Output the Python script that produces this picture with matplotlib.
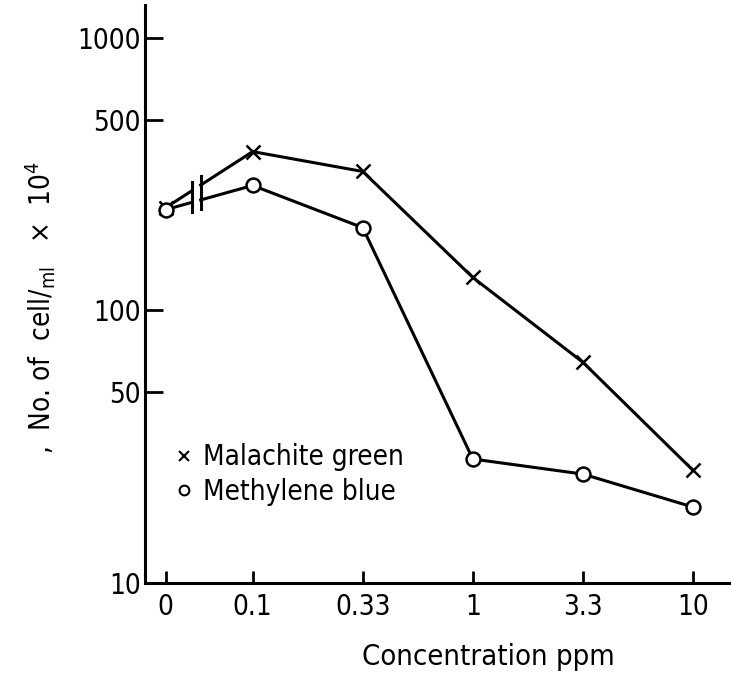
import math
import matplotlib
matplotlib.use('Agg')
import matplotlib.pyplot as plt
from matplotlib.lines import Line2D

plt.rcParams['font.family'] = ['DejaVu Sans']
plt.rcParams['font.stretch'] = 'condensed'
plt.rcParams['mathtext.default'] = 'regular'

# data
conc_labels = ['0', '0.1', '0.33', '1', '3.3', '10']
malachite = [238, 382, 323, 132, 64.5, 25.9]
methylene = [234, 287, 201, 28.5, 25.1, 19.0]

# x layout: 0 sits closer to 0.1, axis break in between
x_pos = [0.21, 1, 2, 3, 4, 5]
break_x = [0.446, 0.528]

fig = plt.figure(figsize=(7.31, 6.78), dpi=100)
ax = fig.add_axes([0.198, 0.140, 0.802, 0.853])
ax.set_yscale('log')


def at_break(ys, bx):
    # log-linear value of the first segment at a break position
    t = (bx - x_pos[0]) / (x_pos[1] - x_pos[0])
    return 10 ** (math.log10(ys[0]) + t * (math.log10(ys[1]) - math.log10(ys[0])))


for ys in (malachite, methylene):
    ax.plot([x_pos[0], break_x[0]], [ys[0], at_break(ys, break_x[0])],
            color='black', lw=2.2)
    ax.plot([break_x[1]] + x_pos[1:], [at_break(ys, break_x[1])] + ys[1:],
            color='black', lw=2.2)

ax.plot(x_pos, malachite, ls='none', marker='x', ms=10, mew=1.8, color='black')
ax.plot(x_pos, methylene, ls='none', marker='o', ms=10, mew=1.8,
        mfc='white', mec='black')

# break bars
for bx in break_x:
    top = at_break(malachite, bx)
    bot = at_break(methylene, bx)
    ax.plot([bx, bx], [bot / 1.08, top * 1.08], color='black', lw=2.2)

ax.set_xlim(0.02, 5.345)
ax.set_ylim(10, 1320)
ax.set_xticks(x_pos)
ax.set_xticklabels(conc_labels)
ax.set_yticks([10, 50, 100, 500, 1000])
ax.set_yticklabels(['10', '50', '100', '500', '1000'])
ax.minorticks_off()

ax.spines['top'].set_visible(False)
ax.spines['right'].set_visible(False)
ax.spines['left'].set_linewidth(2.2)
ax.spines['bottom'].set_linewidth(2.2)
ax.tick_params(axis='y', direction='in', length=13, width=2, labelsize=20, pad=3)
ax.tick_params(axis='x', direction='in', length=9, width=2, labelsize=20, pad=7)

handles = [Line2D([], [], ls='none', marker='x', ms=7, mew=1.5, color='black'),
           Line2D([], [], ls='none', marker='o', ms=7, mew=1.5, mfc='white', mec='black')]
ax.legend(handles, ['Malachite green', 'Methylene blue'], loc='upper left',
          bbox_to_anchor=(0.01, 0.285), frameon=False, fontsize=20,
          handlelength=0.6, handletextpad=0.4, labelspacing=0.25)

fig.text(0.668, 0.019, 'Concentration ppm', fontsize=21, ha='center', va='baseline')
fig.text(0.055, 0.546, r',  No. of  cell$/_{ml}$   ×  10$^4$', fontsize=20,
         rotation=90, ha='center', va='center')

fig.savefig('out.png', dpi=100)
